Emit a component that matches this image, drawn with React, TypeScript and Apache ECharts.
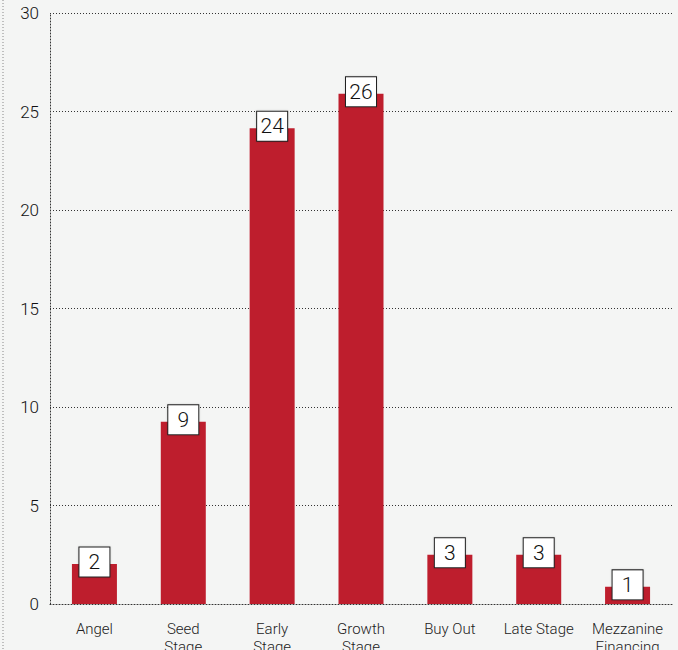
import React, { useEffect, useRef } from "react";
import * as echarts from "echarts";

const categories = ["Angel", "Seed\nStage", "Early\nStage", "Growth\nStage", "Buy Out", "Late Stage", "Mezzanine\nFinancing"];
const values = [2.03, 9.25, 24.15, 25.9, 2.5, 2.5, 0.87];
const yTicks = { min: 0, max: 30, interval: 5 };

export default function App() {
  const ref = useRef<HTMLDivElement>(null);
  useEffect(() => {
    const chart = echarts.init(ref.current!, null, { renderer: "svg" });
    chart.setOption({
      animation: false,
      backgroundColor: "#f4f5f4",
      textStyle: { fontFamily: "Roboto, 'Liberation Sans', sans-serif" },
      grid: { left: 50, right: 6, top: 13, bottom: 46, containLabel: false, outerBoundsMode: "none" },
      graphic: [
        {
          type: "line",
          shape: { x1: 3, y1: 0, x2: 3, y2: 650 },
          style: { stroke: "#888", lineWidth: 1, lineDash: [1, 2] },
        },
      ],
      xAxis: {
        type: "category",
        data: categories,
        axisLine: { show: true, lineStyle: { color: "#333", width: 1, type: [1, 2] } },
        axisTick: { show: false },
        axisLabel: { color: "#222", fontSize: 15, margin: 16, lineHeight: 18, fontWeight: 300, interval: 0 },
      },
      yAxis: {
        type: "value",
        min: yTicks.min,
        max: yTicks.max,
        interval: yTicks.interval,
        axisLine: { show: true, lineStyle: { color: "#333", width: 1, type: [1, 2] } },
        axisTick: { show: false },
        axisLabel: { color: "#111", fontSize: 17, margin: 11, fontWeight: 300 },
        splitLine: { show: true, lineStyle: { color: "#333", width: 1, type: [1, 2] } },
      },
      series: [
        {
          type: "bar",
          data: values,
          barWidth: 45,
          itemStyle: { color: "#be1e2d" },
          label: {
            show: true,
            position: "top",
            distance: 2,
            formatter: (p: any) => String(Math.round(p.value)),
            backgroundColor: "#fff",
            borderColor: "#222",
            borderWidth: 1,
            width: 30,
            height: 29,
            lineHeight: 29,
            align: "center",
            verticalAlign: "middle",
            color: "#111",
            fontSize: 21,
            fontWeight: 300,
            shadowColor: "rgba(0,0,0,0.15)",
            shadowBlur: 2,
          },
        },
      ],
    });
    return () => chart.dispose();
  }, []);
  return <div ref={ref} style={{ position: "fixed", left: 0, top: 0, width: 678, height: 650 }} />;
}
